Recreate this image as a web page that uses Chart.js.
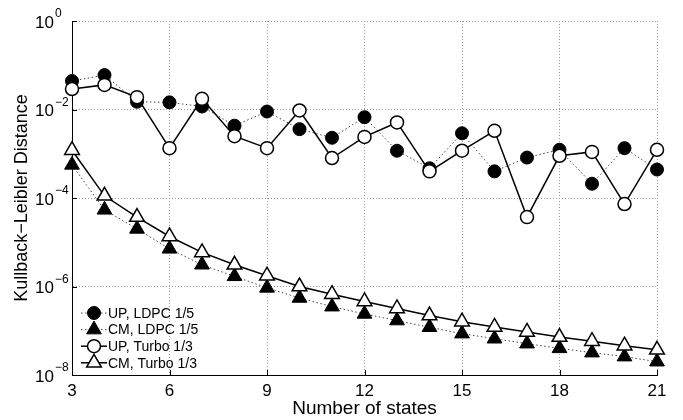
<!DOCTYPE html>
<html>
<head>
<meta charset="utf-8">
<script src="https://cdn.jsdelivr.net/npm/chart.js@4/dist/chart.umd.min.js"></script>
<style>
  html, body { margin: 0; padding: 0; background: #fff; }
  #wrap { width: 683px; height: 420px; }
</style>
</head>
<body>
<div id="wrap"><canvas id="klChart" width="683" height="420"></canvas></div>
<script>
const states = [3, 4, 5, 6, 7, 8, 9, 10, 11, 12, 13, 14, 15, 16, 17, 18, 19, 20, 21];

let upLdpc = [0.044, 0.06, 0.015, 0.0145, 0.0117, 0.0043, 0.009, 0.0036, 0.0023, 0.0067,
  0.00117, 0.00047, 0.0029, 0.0004, 0.00082, 0.00123, 0.00021, 0.00134, 0.00044];
let cmLdpc = [5.6e-4, 5.4e-5, 2.0e-5, 7.1e-6, 3.1e-6, 1.7e-6, 9.3e-7, 5.5e-7, 3.5e-7, 2.4e-7,
  1.7e-7, 1.2e-7, 8.6e-8, 6.6e-8, 5.1e-8, 4.0e-8, 3.2e-8, 2.6e-8, 2.0e-8];
let upTurbo = [0.029, 0.036, 0.019, 0.00134, 0.0174, 0.0025, 0.00134, 0.0095, 0.0008, 0.0024,
  0.0051, 0.0004, 0.00117, 0.0033, 0.000037, 0.0009, 0.0011, 0.000073, 0.00123];
let cmTurbo = [1.2e-3, 1.12e-4, 3.7e-5, 1.35e-5, 5.9e-6, 3.1e-6, 1.75e-6, 1.0e-6, 6.7e-7, 4.6e-7,
  3.2e-7, 2.2e-7, 1.6e-7, 1.22e-7, 9.4e-8, 7.2e-8, 5.8e-8, 4.6e-8, 3.7e-8];

const xTicks = [3, 6, 9, 12, 15, 18, 21];
const yExponents = [0, -2, -4, -6, -8];

const FONT = "'Liberation Sans', Arial, sans-serif";

function pts(arr) {
  return arr.map((v, i) => ({ x: states[i], y: v }));
}

// y tick labels as 10 with superscript, inward ticks, legend inside the plot
const drawExtras = {
  id: "drawExtras",
  afterDraw(chart) {
    const ctx = chart.ctx;
    const xs = chart.scales.x;
    const ys = chart.scales.y;
    const area = chart.chartArea;
    ctx.save();
    ctx.fillStyle = "#000";
    ctx.strokeStyle = "#000";
    ctx.lineWidth = 1;

    // inward tick marks
    ctx.beginPath();
    xTicks.forEach(t => {
      const px = Math.round(xs.getPixelForValue(t)) + 0.5;
      ctx.moveTo(px, area.bottom);
      ctx.lineTo(px, area.bottom - 5);
    });
    yExponents.forEach(e => {
      const py = Math.round(ys.getPixelForValue(Math.pow(10, e))) + 0.5;
      ctx.moveTo(area.left, py);
      ctx.lineTo(area.left + 5, py);
    });
    ctx.stroke();

    // y labels
    yExponents.forEach(e => {
      const py = ys.getPixelForValue(Math.pow(10, e));
      ctx.font = "17px " + FONT;
      ctx.textAlign = "right";
      ctx.textBaseline = "middle";
      ctx.fillText("10", 54, py + 2);
      ctx.font = "12px " + FONT;
      ctx.textAlign = "left";
      ctx.fillText(e === 0 ? "0" : "\u2212" + (-e), 55, py - 7);
    });

    // legend
    const labels = ["UP, LDPC 1/5", "CM, LDPC 1/5", "UP, Turbo 1/3", "CM, Turbo 1/3"];
    labels.forEach((text, i) => {
      const ds = chart.data.datasets[i];
      const cy = 313 + i * 16.6;
      ctx.save();
      ctx.strokeStyle = ds.borderColor;
      ctx.lineWidth = ds.borderWidth;
      ctx.setLineDash(ds.borderDash || []);
      ctx.beginPath();
      ctx.moveTo(81, cy);
      ctx.lineTo(107, cy);
      ctx.stroke();
      ctx.restore();

      ctx.save();
      ctx.fillStyle = ds.pointBackgroundColor;
      ctx.strokeStyle = "#000";
      ctx.lineWidth = ds.pointBorderWidth;
      ctx.beginPath();
      const r = ds.pointRadius;
      if (ds.pointStyle === "circle") {
        ctx.arc(94, cy, r, 0, Math.PI * 2);
      } else {
        ctx.moveTo(94, cy - r);
        ctx.lineTo(94 + r * 0.866, cy + r * 0.5);
        ctx.lineTo(94 - r * 0.866, cy + r * 0.5);
        ctx.closePath();
      }
      ctx.fill();
      ctx.stroke();
      ctx.restore();

      ctx.font = "14px " + FONT;
      ctx.textAlign = "left";
      ctx.textBaseline = "middle";
      ctx.fillStyle = "#000";
      ctx.fillText(text, 108, cy + 1);
    });
    ctx.restore();
  }
};

const ctx = document.getElementById("klChart").getContext("2d");
const chart = new Chart(ctx, {
  type: "line",
  data: {
    datasets: [
      {
        label: "UP, LDPC 1/5",
        data: pts(upLdpc),
        borderColor: "#444",
        borderWidth: 1,
        borderDash: [1.5, 2.5],
        pointStyle: "circle",
        pointRadius: 6.5,
        pointBackgroundColor: "#000",
        pointBorderColor: "#000",
        pointBorderWidth: 1,
        order: 4
      },
      {
        label: "CM, LDPC 1/5",
        data: pts(cmLdpc),
        borderColor: "#444",
        borderWidth: 1,
        borderDash: [1.5, 2.5],
        pointStyle: "triangle",
        pointRadius: 8.5,
        pointBackgroundColor: "#000",
        pointBorderColor: "#000",
        pointBorderWidth: 1,
        order: 3
      },
      {
        label: "UP, Turbo 1/3",
        data: pts(upTurbo),
        borderColor: "#000",
        borderWidth: 1.5,
        pointStyle: "circle",
        pointRadius: 6.5,
        pointBackgroundColor: "#fff",
        pointBorderColor: "#000",
        pointBorderWidth: 1.5,
        order: 2
      },
      {
        label: "CM, Turbo 1/3",
        data: pts(cmTurbo),
        borderColor: "#000",
        borderWidth: 1.5,
        pointStyle: "triangle",
        pointRadius: 8.5,
        pointBackgroundColor: "#fff",
        pointBorderColor: "#000",
        pointBorderWidth: 1.5,
        order: 1
      }
    ]
  },
  options: {
    responsive: false,
    animation: false,
    clip: false,
    layout: { padding: { top: 21, right: 26, left: 0, bottom: 0 } },
    plugins: {
      legend: { display: false },
      tooltip: { enabled: false }
    },
    scales: {
      x: {
        type: "linear",
        min: 3,
        max: 21,
        afterBuildTicks(scale) {
          scale.ticks = xTicks.map(v => ({ value: v }));
        },
        afterFit(scale) { scale.height = 45; },
        grid: {
          color: "#9a9a9a",
          lineWidth: 1,
          drawTicks: false
        },
        border: { display: true, color: "#000", width: 1, dash: [1, 2] },
        ticks: {
          color: "#000",
          padding: 6,
          font: { family: FONT, size: 17 }
        },
        title: {
          display: true,
          text: "Number of states",
          color: "#000",
          padding: { top: 0, bottom: 0 },
          font: { family: FONT, size: 19 }
        }
      },
      y: {
        type: "logarithmic",
        min: 1e-8,
        max: 1,
        afterBuildTicks(scale) {
          scale.ticks = yExponents.map(e => ({ value: Math.pow(10, e) }));
        },
        afterFit(scale) { scale.width = 72; },
        grid: {
          color: "#9a9a9a",
          lineWidth: 1,
          drawTicks: false
        },
        border: { display: true, color: "#000", width: 1, dash: [1, 2] },
        ticks: { display: false },
        title: {
          display: true,
          text: "Kullback\u2212Leibler Distance",
          color: "#000",
          padding: { top: 11, bottom: 0 },
          font: { family: FONT, size: 18 }
        }
      }
    }
  },
  plugins: [drawExtras]
});
</script>
</body>
</html>
